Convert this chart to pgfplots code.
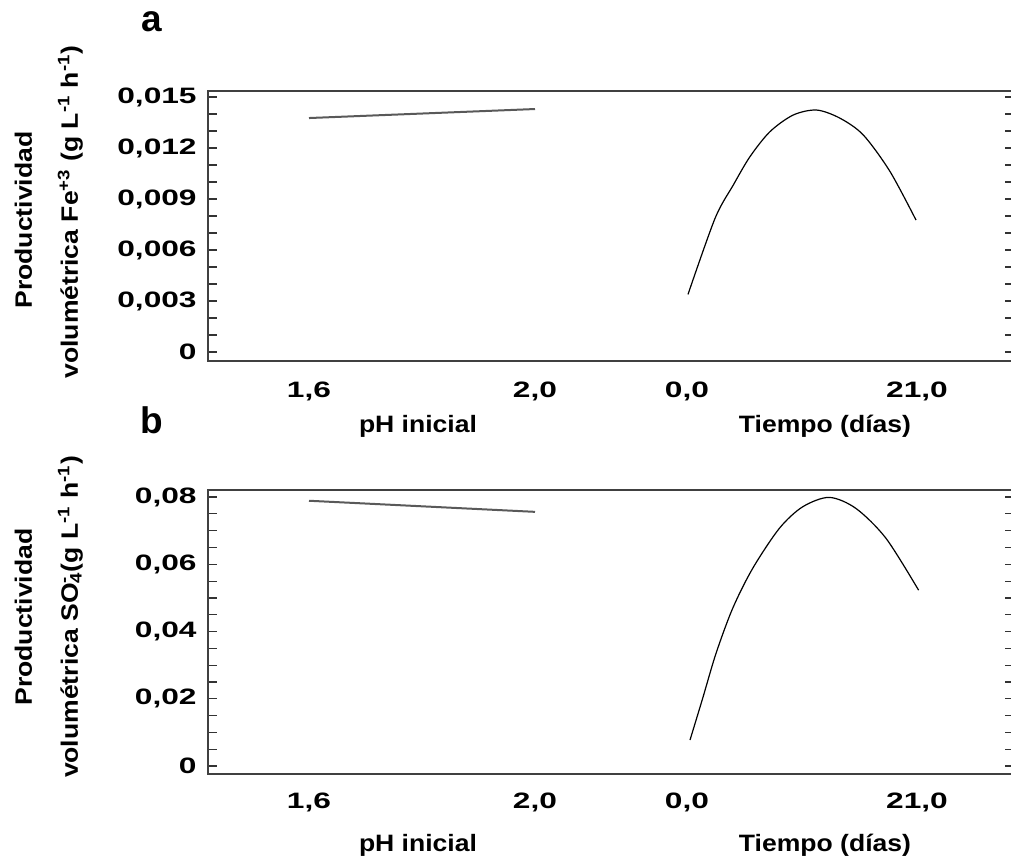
\documentclass[border=0pt]{standalone}
\usepackage{pgfplots}
\pgfplotsset{compat=1.18}
\usepackage{fontspec}
\setmainfont{Liberation Sans}
\newfontfamily\tickfont{Liberation Sans}[FakeStretch=1.42]
\newfontfamily\labfont{Liberation Sans}[FakeStretch=1.12]

\pgfplotsset{
  effplot/.style={
    anchor=south west, scale only axis,
    xmin=208, xmax=1014,
    axis line style={draw=black!75, line width=0.9pt},
    xtick={309,535,687,917},
    xticklabels={{1,6},{2,0},{0,0},{21,0}},
    xtick style={draw=none},
    ytick style={draw=black!80, line width=0.6pt},
    major tick length=4.5pt, minor tick length=4.5pt,
    tick align=inside,
    scaled y ticks=false,
    ticklabel style={font=\tickfont\bfseries\fontsize{11.15}{13}\selectfont, inner sep=0pt},
    yticklabel style={anchor=east, xshift=-5.5pt},
    xticklabel style={anchor=north},
    clip=false,
  },
  phline/.style={draw=black!65, line width=1pt},
  tline/.style={draw=black, line width=0.6pt, smooth, tension=0.5},
}

\begin{document}
\begin{tikzpicture}
\path[use as bounding box] (0,0) rectangle (505.5pt,429.5pt);

% ---------- panel a ----------
\begin{axis}[effplot,
  at={(104pt,249pt)}, width=403pt, height=135pt,
  ymin=-0.00053, ymax=0.01535,
  ytick={0,0.003,0.006,0.009,0.012,0.015},
  yticklabels={{0},{0,003},{0,006},{0,009},{0,012},{0,015}},
  minor ytick={0.001,0.002,0.004,0.005,0.007,0.008,0.010,0.011,0.013,0.014},
  xticklabel style={yshift=-10.5pt},
]
\addplot[phline] table[x expr={309+(\thisrow{ph}-1.6)*565}, y=v] {
ph v
1.6 0.01376
2.0 0.01429
};
\addplot[tline] table[x expr={688+\thisrow{t}*10.857}, y=v] {
t v
0 0.00339
2.49 0.00786
4.17 0.00982
5.71 0.01149
7.55 0.01296
9.70 0.01394
11.85 0.01423
14.00 0.01375
16.15 0.01276
18.61 0.01061
21 0.00776
};
\end{axis}

% ---------- panel b ----------
\begin{axis}[effplot,
  at={(104pt,42.5pt)}, width=403pt, height=142pt,
  ymin=-0.00238, ymax=0.0821,
  ytick={0,0.02,0.04,0.06,0.08},
  yticklabels={{0},{0,02},{0,04},{0,06},{0,08}},
  minor ytick={0.005,0.010,0.015,0.025,0.030,0.035,0.045,0.050,0.055,0.065,0.070,0.075},
  xticklabel style={yshift=-9.3pt},
]
\addplot[phline] table[x expr={309+(\thisrow{ph}-1.6)*565}, y=v] {
ph v
1.6 0.0789
2.0 0.0756
};
\addplot[tline] table[x expr={690+\thisrow{t}*10.886}, y=v] {
t v
0 0.00773
1.16 0.0201
2.39 0.0335
3.92 0.0469
5.76 0.0588
8.21 0.0707
10.35 0.0771
12.79 0.0799
15.25 0.0766
18.01 0.0677
21 0.0523
};
\end{axis}

% ---------- labels ----------
\begin{scope}[every node/.style={font=\labfont\bfseries\fontsize{11.85}{14}\selectfont, inner sep=0pt}]
\node[rotate=90, anchor=base] at (16pt,319.5pt) {Productividad};
\node[rotate=90, anchor=base] at (39pt,323.5pt) {volumétrica Fe\textsuperscript{+3} (g L\textsuperscript{-1} h\textsuperscript{-1})};
\node[rotate=90, anchor=base] at (16pt,121pt) {Productividad};
\node[rotate=90, anchor=base] at (39pt,121pt) {volumétrica SO\rlap{\textsubscript{4}}\textsuperscript{-}\,(g L\textsuperscript{-1} h\textsuperscript{-1})};
\node[anchor=base] at (209pt,213.5pt) {pH inicial};
\node[anchor=base] at (412.5pt,213.5pt) {Tiempo (días)};
\node[anchor=base] at (209pt,4pt) {pH inicial};
\node[anchor=base] at (412.5pt,4pt) {Tiempo (días)};
\end{scope}
\node[anchor=base, inner sep=0pt, font=\bfseries\fontsize{18.5}{20}\selectfont] at (76pt,413.5pt) {a};
\node[anchor=base, inner sep=0pt, font=\bfseries\fontsize{18.5}{20}\selectfont] at (76pt,213pt) {b};
\end{tikzpicture}
\end{document}
